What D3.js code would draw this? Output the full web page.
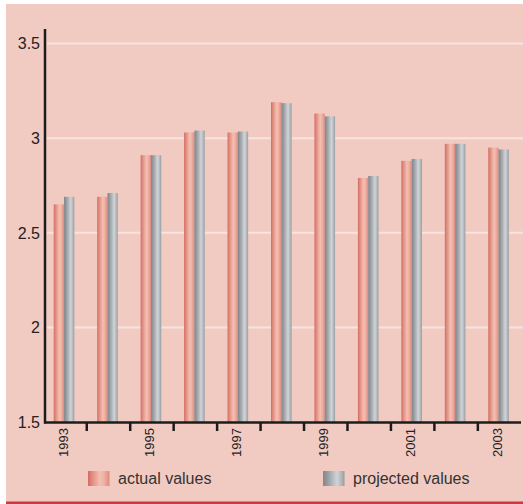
<!DOCTYPE html>
<html>
<head>
<meta charset="utf-8">
<script src="https://cdn.jsdelivr.net/npm/d3@7"></script>
<style>
  body { margin: 0; background: #ffffff; }
  text { font-family: "Liberation Sans", Arial, sans-serif; }
</style>
</head>
<body>
<div id="chart"></div>
<script>
// DATA //
const years = [1993, 1994, 1995, 1996, 1997, 1998, 1999, 2000, 2001, 2002, 2003];
const actual = [2.65, 2.69, 2.91, 3.03, 3.03, 3.19, 3.13, 2.79, 2.88, 2.97, 2.95];
const projected = [2.69, 2.71, 2.91, 3.04, 3.035, 3.185, 3.115, 2.80, 2.89, 2.97, 2.94];
const yTicks = [1.5, 2, 2.5, 3, 3.5];
const labelYears = [1993, 1995, 1997, 1999, 2001, 2003];
const seriesNames = ["actual values", "projected values"];

// DIMENSIONS //
const W = 523, H = 504;

let svg = d3.select("#chart")
    .append("svg")
    .attr("width", W)
    .attr("height", H);

// gradients for the cylinder look
let defs = svg.append("defs");
function gradient(id, stops) {
    let g = defs.append("linearGradient")
        .attr("id", id)
        .attr("x1", "0%").attr("x2", "100%")
        .attr("y1", "0%").attr("y2", "0%");
    stops.forEach(s => g.append("stop").attr("offset", s[0]).attr("stop-color", s[1]));
}
gradient("salmon", [[0, "#d4695f"], [0.15, "#de877b"], [0.55, "#f3bfb2"], [0.75, "#efb0a3"], [1, "#e0897c"]]);
gradient("grey", [[0, "#82878c"], [0.2, "#959a9f"], [0.65, "#d0d4d7"], [0.85, "#b4b8bc"], [1, "#979ca0"]]);

// background panel
svg.append("rect")
    .attr("x", 6).attr("y", 4)
    .attr("width", W - 6).attr("height", 498)
    .attr("fill", "#f1cbc2");

// red bottom rule
svg.append("rect")
    .attr("x", 6).attr("y", 501.5)
    .attr("width", W - 6).attr("height", 2.5)
    .attr("fill", "#c93a45");

// SCALES //
let yScale = d3.scaleLinear()
    .domain([1.5, 3.5])
    .range([422, 43.5]);

let xScale = d3.scaleBand()
    .domain(years)
    .range([43.3, 521.3])
    .paddingInner(0)
    .paddingOuter(0);

// gridlines
svg.append("g")
    .selectAll("line")
    .data(yTicks.filter(t => t > 1.5))
    .enter()
    .append("line")
    .attr("x1", 47).attr("x2", W)
    .attr("y1", d => yScale(d)).attr("y2", d => yScale(d))
    .attr("stroke", "#f8e3de")
    .attr("stroke-width", 2);

// BARS //
const barW = 10.3;
let bars = svg.append("g");
years.forEach((yr, i) => {
    let cx = xScale(yr) + xScale.bandwidth() / 2 - 1;
    bars.append("rect")
        .attr("x", cx - barW)
        .attr("y", yScale(actual[i]))
        .attr("width", barW)
        .attr("height", yScale(1.5) - yScale(actual[i]))
        .attr("fill", "url(#salmon)");
    bars.append("rect")
        .attr("x", cx)
        .attr("y", yScale(projected[i]))
        .attr("width", barW)
        .attr("height", yScale(1.5) - yScale(projected[i]))
        .attr("fill", "url(#grey)");
});

// Y AXIS //
svg.append("line")
    .attr("x1", 45).attr("x2", 45)
    .attr("y1", 29).attr("y2", yScale(1.5) + 1.5)
    .attr("stroke", "#1c1c1c")
    .attr("stroke-width", 2.5);

svg.append("g")
    .selectAll("text")
    .data(yTicks)
    .enter()
    .append("text")
    .attr("x", 40)
    .attr("y", d => yScale(d))
    .attr("dy", "0.36em")
    .attr("text-anchor", "end")
    .attr("font-size", 16)
    .attr("fill", "#222")
    .text(d => d);

// X AXIS //
svg.append("line")
    .attr("x1", 44).attr("x2", 521)
    .attr("y1", yScale(1.5) + 0.5).attr("y2", yScale(1.5) + 0.5)
    .attr("stroke", "#1c1c1c")
    .attr("stroke-width", 2.5);

// ticks between categories
svg.append("g")
    .selectAll("line")
    .data(years.slice(1))
    .enter()
    .append("line")
    .attr("x1", d => xScale(d)).attr("x2", d => xScale(d))
    .attr("y1", yScale(1.5)).attr("y2", yScale(1.5) + 9)
    .attr("stroke", "#1c1c1c")
    .attr("stroke-width", 2.5);

// rotated year labels
svg.append("g")
    .selectAll("text")
    .data(labelYears)
    .enter()
    .append("text")
    .attr("transform", d => "translate(" + (xScale(d) + xScale.bandwidth() / 2 + 2.5) + "," + 428 + ") rotate(-90)")
    .attr("text-anchor", "end")
    .attr("font-size", 13)
    .attr("fill", "#222")
    .text(d => d);

// LEGEND //
const legend = [
    {x: 88, fill: "url(#salmon)"},
    {x: 323, fill: "url(#grey)"}
];
let lg = svg.append("g");
legend.forEach((l, i) => {
    lg.append("rect")
        .attr("x", l.x).attr("y", 471)
        .attr("width", 21.5).attr("height", 15)
        .attr("fill", l.fill);
    lg.append("text")
        .attr("x", l.x + 30).attr("y", 484)
        .attr("font-size", 16)
        .attr("fill", "#333")
        .text(seriesNames[i]);
});
</script>
</body>
</html>
